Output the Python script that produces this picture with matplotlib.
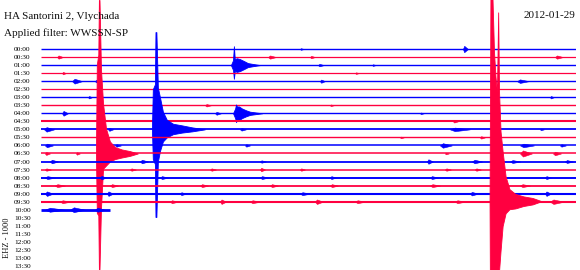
import numpy as np
import matplotlib
matplotlib.use("Agg")
import matplotlib.pyplot as plt

# helicorder rows, 30 minutes each
row_labels = ["%02d:%02d" % (h, m) for h in range(14) for m in (0, 30)]
n_traces = 21                 # rows that carry data (00:00 .. 10:00)
last_row_end = 3.87           # minutes recorded in the 10:00 row
trace_lw = [1.0, 0.9, 1.0, 0.9, 1.0, 0.9, 1.0, 1.0, 1.0, 1.5, 1.3,
            1.0, 1.1, 1.1, 1.3, 1.1, 1.4, 1.3, 1.5, 1.5, 2.0]

# small bursts: row, start minute, half amplitude (rows), duration (s)
burst_row = [0, 0, 1, 1, 1, 1, 2, 2, 3, 3, 4, 4, 4, 4, 6, 6, 7, 7, 8, 8, 8,
             9, 10, 10, 10, 10, 10, 11, 11, 12, 12, 12, 12, 12, 12,
             13, 13, 13, 13, 13, 14, 14, 14, 14, 14, 14, 14,
             15, 15, 15, 15, 15, 15, 15, 16, 16, 16, 16, 16, 16, 16,
             17, 17, 17, 17, 17, 17, 17, 18, 18, 18, 18, 18, 18,
             19, 19, 19, 19, 19, 19, 19, 19, 20, 20, 20]
burst_min = [23.66, 14.52, 0.90, 12.73, 15.08, 28.82, 15.53, 18.56, 1.18, 17.61,
             1.74, 3.03, 15.64, 26.69, 2.64, 28.54, 9.20, 16.20, 1.18, 9.76, 21.25,
             23.10, 0.17, 3.76, 11.16, 22.93, 27.98, 20.13, 24.61,
             0.22, 4.15, 11.44, 22.37, 26.86, 29.10,
             0.22, 1.96, 22.65, 26.86, 28.71,
             0.50, 5.55, 12.28, 21.64, 24.17, 26.30, 29.38,
             0.22, 4.99, 9.48, 12.28, 14.52, 22.65, 24.33,
             0.22, 3.31, 6.67, 12.28, 16.20, 21.81, 28.26,
             0.78, 3.87, 8.92, 12.84, 16.20, 21.81, 26.86,
             0.22, 3.70, 7.79, 14.52, 24.05, 28.26,
             1.07, 7.23, 10.04, 11.72, 15.36, 17.61, 23.21, 28.54,
             0.22, 1.63, 3.03]
burst_amp = [0.4, 0.1, 0.2, 0.2, 0.15, 0.2, 0.15, 0.1, 0.15, 0.1,
             0.3, 0.15, 0.2, 0.22, 0.15, 0.15, 0.15, 0.1, 0.3, 0.18, 0.1,
             0.15, 0.28, 0.18, 0.15, 0.22, 0.1, 0.1, 0.15,
             0.22, 0.15, 0.15, 0.28, 0.22, 0.15,
             0.18, 0.15, 0.1, 0.38, 0.22,
             0.22, 0.22, 0.15, 0.28, 0.22, 0.18, 0.18,
             0.15, 0.15, 0.15, 0.22, 0.15, 0.15, 0.15,
             0.18, 0.22, 0.18, 0.18, 0.18, 0.18, 0.18,
             0.18, 0.18, 0.18, 0.18, 0.18, 0.18, 0.18,
             0.28, 0.28, 0.18, 0.18, 0.22, 0.28,
             0.18, 0.18, 0.28, 0.18, 0.28, 0.18, 0.18, 0.28,
             0.25, 0.3, 0.25]
burst_len = [17, 13, 20, 27, 17, 27, 20, 13, 13, 13,
             34, 13, 17, 40, 13, 13, 20, 13, 20, 20, 13,
             17, 34, 17, 20, 67, 13, 13, 17,
             27, 20, 17, 40, 47, 20,
             17, 13, 13, 40, 27,
             27, 27, 20, 20, 34, 34, 27,
             20, 20, 20, 17, 17, 20, 20,
             34, 20, 27, 27, 20, 27, 20,
             34, 27, 27, 27, 27, 34, 34,
             27, 20, 20, 34, 27, 20,
             34, 27, 20, 34, 27, 34, 34, 47,
             67, 50, 34]

# earthquakes: row, onset minute, envelope offsets (s), upward / downward extent (rows)
eq_row = [2, 8, 10, 13, 19]
eq_onset = [10.65, 10.77, 6.22, 3.08, 25.18]
eq_offset = [
    [0, 7, 10, 13, 20, 30, 44, 57, 77, 98],
    [0, 7, 10, 13, 20, 30, 44, 57, 77, 98],
    [0, 3, 10, 12, 15, 20, 27, 37, 50, 71, 101, 135, 178],
    [0, 3, 8, 10, 12, 17, 24, 34, 47, 64, 87, 114, 141],
    [0, 3, 10, 15, 20, 25, 29, 32, 37, 44, 54, 67, 87, 114, 145, 175],
]
eq_up = [
    [0, 0.6, 2.35, 0.75, 0.85, 0.75, 0.5, 0.25, 0.12, 0],
    [0, 0.6, 1.1, 0.85, 0.85, 0.6, 0.37, 0.2, 0.1, 0],
    [0, 5.0, 5.6, 12.1, 12.1, 5.2, 4.0, 2.2, 1.2, 0.7, 0.5, 0.25, 0],
    [0, 11.1, 12.3, 19.1, 19.1, 10.5, 6.2, 3.1, 1.5, 0.8, 0.5, 0.3, 0],
    [0, 25.1, 25.1, 18.6, 15.5, 13.6, 23.5, 13.6, 8.7, 6.2, 3.1, 1.5, 0.9, 0.6, 0.4, 0],
]
eq_down = [
    [0, 0.6, 1.7, 0.75, 0.85, 0.75, 0.5, 0.25, 0.12, 0],
    [0, 0.6, 1.1, 0.85, 0.85, 0.6, 0.37, 0.2, 0.1, 0],
    [0, 3.7, 4.3, 10.9, 10.9, 4.0, 2.7, 1.5, 1.0, 0.6, 0.4, 0.25, 0],
    [0, 7.4, 7.7, 14.4, 14.4, 6.8, 1.9, 1.5, 1.0, 0.7, 0.5, 0.3, 0],
    [0, 25.1, 25.1, 18.6, 14.9, 11.1, 12.4, 8.7, 6.2, 3.1, 1.5, 1.0, 0.9, 0.6, 0.4, 0],
]

blue = "#0000ff"
red = "#ff0040"

fig = plt.figure(figsize=(5.8, 2.7), dpi=100)
ax = fig.add_axes([41 / 580, 0, 535 / 580, 1])
ax.set_xlim(0, 30)
ax.set_ylim(27.5, -6.1)

for r in range(n_traces):
    c = blue if r % 2 == 0 else red
    t_end = last_row_end if r == n_traces - 1 else 30
    ax.plot([0, t_end], [r, r], color=c, lw=trace_lw[r], zorder=r, solid_capstyle="butt")
    for br, bm, ba, bl in zip(burst_row, burst_min, burst_amp, burst_len):
        if br != r:
            continue
        t = bm + np.array([0, 0.25, 1.0]) * bl / 60
        a = np.array([0, ba, 0])
        ax.fill_between(t, r - a, r + a, color=c, lw=0.4, zorder=r)
    for er, eo, off, up, dn in zip(eq_row, eq_onset, eq_offset, eq_up, eq_down):
        if er != r:
            continue
        t = eo + np.array(off) / 60
        ax.fill_between(t, r - np.array(up), r + np.array(dn), color=c, lw=0.6, zorder=r)

ax.set_yticks(range(len(row_labels)))
ax.set_yticklabels(row_labels, family="Liberation Serif", fontsize=5.3)
ax.tick_params(left=False, bottom=False, pad=4)
ax.set_xticks([])
for s in ax.spines.values():
    s.set_visible(False)

fig.text(4 / 580, 1 - 19 / 270, "HA Santorini 2, Vlychada", family="Liberation Serif",
         fontsize=8, va="baseline", color="#111111")
fig.text(4 / 580, 1 - 36 / 270, "Applied filter: WWSSN-SP", family="Liberation Serif",
         fontsize=8, va="baseline", color="#111111")
fig.text(575 / 580, 1 - 18 / 270, "2012-01-29", family="Liberation Serif",
         fontsize=8, va="baseline", ha="right", color="#111111")
fig.text(7 / 580, 1 - 238 / 270, "EHZ - 1000", family="Liberation Serif",
         fontsize=6, rotation=90, ha="center", va="center", color="#111111")

fig.savefig("out.png", dpi=100)
